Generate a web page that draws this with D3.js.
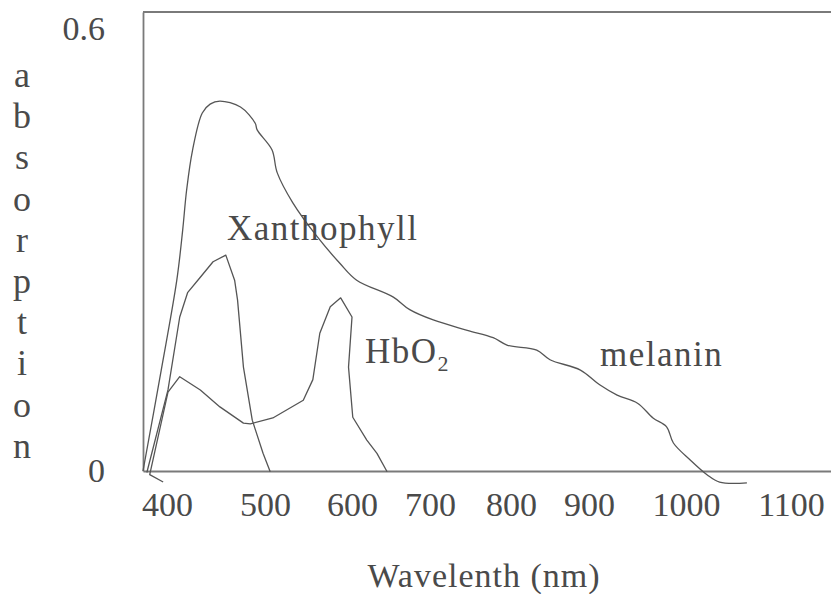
<!DOCTYPE html>
<html>
<head>
<meta charset="utf-8">
<script src="https://cdn.jsdelivr.net/npm/d3@7"></script>
<style>
  body { margin: 0; background: #fff; }
  svg { display: block; }
  text { font-family: "Liberation Serif", "Times New Roman", serif; fill: #4a4a4a; }
</style>
</head>
<body>
<div id="container"></div>
<script>
// values
const tickLabels = [400, 500, 600, 700, 800, 900, 1000, 1100];
const yTicks = [0, 0.6];

const melaninWl = [375, 394, 410, 416, 420, 426, 436, 444, 454, 475, 490, 492, 508, 514, 532, 560, 586, 606, 653, 674, 704, 746, 778, 795, 833, 850, 889, 911, 929, 950, 966, 980, 987, 1004, 1020, 1032, 1058];
const melaninAbs = [0, 0.137, 0.259, 0.327, 0.381, 0.435, 0.486, 0.498, 0.502, 0.494, 0.472, 0.463, 0.436, 0.405, 0.364, 0.318, 0.282, 0.259, 0.236, 0.219, 0.205, 0.191, 0.181, 0.171, 0.164, 0.151, 0.137, 0.117, 0.103, 0.092, 0.072, 0.060, 0.038, 0.015, -0.005, -0.015, -0.016];

const xanthWl = [379, 401, 413, 421, 434, 447, 460, 469, 472, 478, 487, 498, 506];
const xanthAbs = [-0.002, 0.110, 0.209, 0.242, 0.263, 0.284, 0.293, 0.259, 0.232, 0.141, 0.069, 0.024, -0.001];

const hbo2Wl = [396, 382, 401, 413, 434, 454, 478, 485, 509, 544, 555, 563, 575, 587, 600, 596, 601, 619, 632, 645];
const hbo2Abs = [-0.015, -0.005, 0.107, 0.128, 0.110, 0.087, 0.065, 0.064, 0.072, 0.096, 0.124, 0.187, 0.223, 0.235, 0.209, 0.141, 0.073, 0.042, 0.024, -0.001];

const yLabel = "absorption";

window.onload = () => {
  const width = 831, height = 594;

  const svg = d3.select("#container")
    .append("svg")
    .attr("width", width)
    .attr("height", height);

  // the printed axis is hand spaced, so the scale is piecewise
  const tickPx = [143, 167, 265, 352, 430, 511, 589, 686, 791, 831];
  const x = d3.scaleLinear()
    .domain([375, ...tickLabels, 1138])
    .range(tickPx);

  const y = d3.scaleLinear()
    .domain([0, 0.623])
    .range([471, 12]);

  const frame = "#7a7a7a";

  // x axis
  const xAxis = svg.append("g")
    .attr("transform", "translate(0," + y(0) + ")")
    .call(d3.axisBottom(x).tickValues(tickLabels).tickFormat(d3.format("d"))
      .tickSize(0).tickSizeOuter(0).tickPadding(21));
  xAxis.select(".domain").attr("stroke", frame).attr("stroke-width", 1.8);
  xAxis.selectAll("text")
    .style("font-family", "Liberation Serif, serif")
    .style("font-size", "34px")
    .attr("fill", "#4a4a4a");

  // y axis
  const yAxis = svg.append("g")
    .attr("transform", "translate(" + x.range()[0] + ",0)")
    .call(d3.axisLeft(y).tickValues(yTicks).tickSize(0).tickSizeOuter(0).tickPadding(38)
      .tickFormat(d => d === 0 ? "0" : d3.format(".1f")(d)));
  yAxis.select(".domain").attr("stroke", frame).attr("stroke-width", 1.8);
  yAxis.selectAll("text")
    .style("font-family", "Liberation Serif, serif")
    .style("font-size", "34px")
    .attr("fill", "#4a4a4a");

  // top border
  svg.append("line")
    .attr("x1", x.range()[0])
    .attr("x2", x.range()[x.range().length - 1])
    .attr("y1", y.range()[1])
    .attr("y2", y.range()[1])
    .attr("stroke", frame)
    .attr("stroke-width", 1.8);

  const series = [
    {wl: melaninWl, abs: melaninAbs, curve: d3.curveCatmullRom.alpha(0.5)},
    {wl: xanthWl, abs: xanthAbs, curve: d3.curveLinear},
    {wl: hbo2Wl, abs: hbo2Abs, curve: d3.curveLinear}
  ];

  series.forEach(s => {
    const pts = s.wl.map((w, i) => [w, s.abs[i]]);
    svg.append("path")
      .datum(pts)
      .attr("fill", "none")
      .attr("stroke", "#555")
      .attr("stroke-width", 1.3)
      .attr("stroke-linejoin", "round")
      .attr("d", d3.line()
        .x(d => x(d[0]))
        .y(d => y(d[1]))
        .curve(s.curve));
  });

  // curve names
  const label = (tx, ty, str) => svg.append("text")
    .attr("x", tx)
    .attr("y", ty)
    .style("font-size", "35px")
    .style("letter-spacing", "1.5px")
    .text(str);

  label(227, 240, "Xanthophyll");
  const hb = label(365, 363, "HbO");
  hb.append("tspan")
    .attr("dy", 8)
    .style("font-size", "22px")
    .text("2");
  label(600, 366, "melanin");

  // x title
  svg.append("text")
    .attr("x", 484)
    .attr("y", 587)
    .attr("text-anchor", "middle")
    .style("font-size", "34px")
    .style("letter-spacing", "1px")
    .text("Wavelenth (nm)");

  // y title, one letter per line
  svg.append("g")
    .selectAll("text")
    .data(yLabel.split(""))
    .enter()
    .append("text")
    .attr("x", 22)
    .attr("y", (d, i) => 87 + i * 41.2)
    .attr("text-anchor", "middle")
    .style("font-size", "36px")
    .text(d => d);
}
</script>
</body>
</html>
